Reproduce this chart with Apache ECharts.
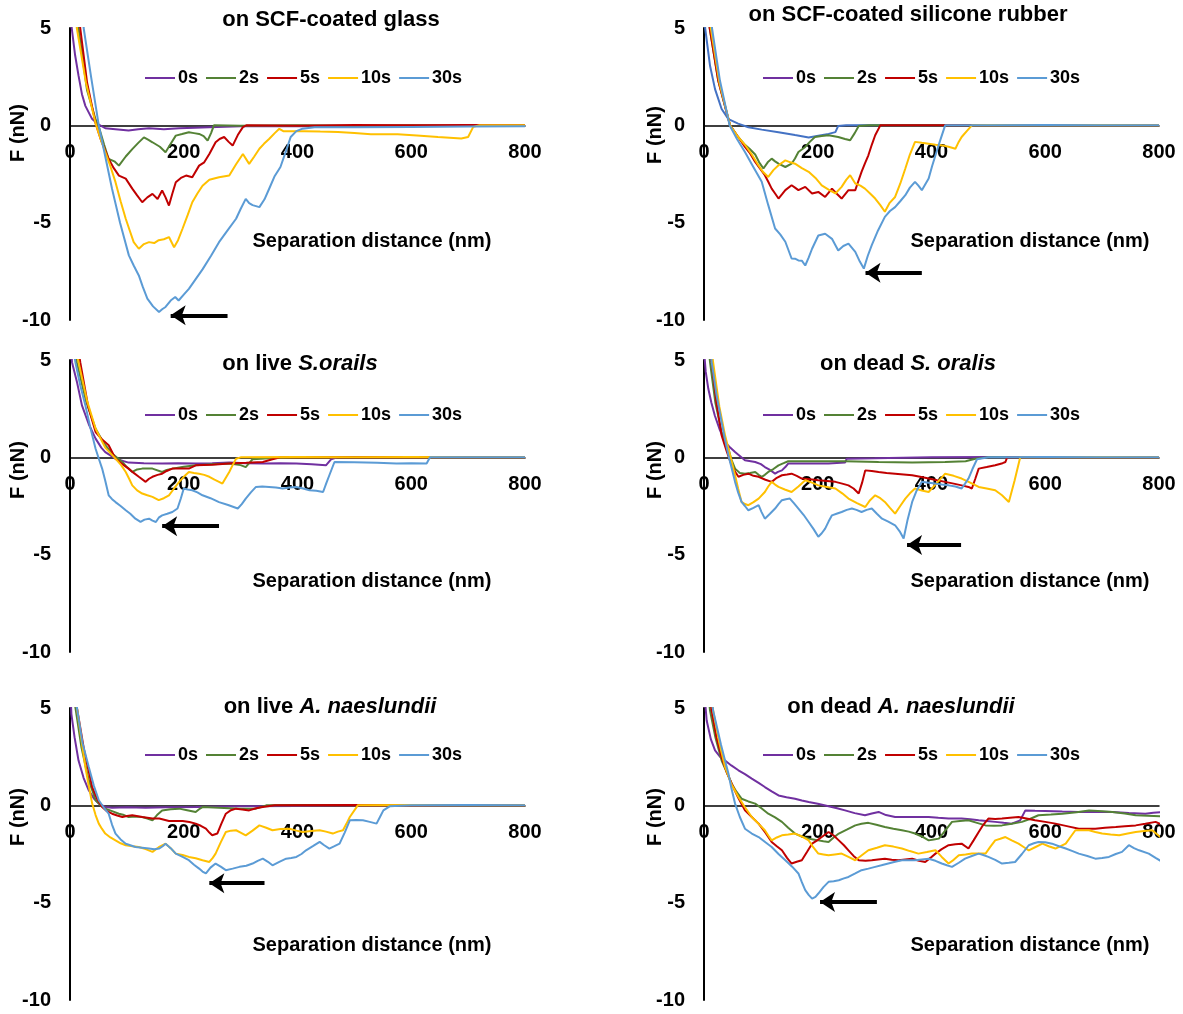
<!DOCTYPE html>
<html><head><meta charset="utf-8">
<script src="https://cdn.jsdelivr.net/npm/echarts@6/dist/echarts.min.js"></script>
<style>html,body{margin:0;padding:0;background:#fff}#c{width:1183px;height:1014px}</style>
</head><body><div id="c"></div>
<script>
const seriesNames = ['0s','2s','5s','10s','30s'];
const baseColors = ['#7030A0','#548235','#C00000','#FFC000','#5B9BD5'];
const panelTitles = ['on SCF-coated glass','on SCF-coated silicone rubber','on live {i|S.orails}','on dead {i|S. oralis}','on live {i|A. naeslundii}','on dead {i|A. naeslundii}'];
const xName = 'Separation distance (nm)';
const yName = 'F (nN)';

// Panel 1: SCF-coated glass
const g0 = [[0,7],[3,5],[9,3.6],[15,2.55],[21,1.6],[27,1.0],[39,0.32],[50,0.05],[62,-0.15],[80,-0.2],[103,-0.27],[120,-0.2],[139,-0.15],[165,-0.2],[192,-0.15],[220,-0.12],[245,-0.1],[300,-0.05],[400,-0.03],[500,-0.05],[600,-0.03],[700,-0.04],[800,-0.03]];
const g2 = [[0,9],[15,5],[30,1.8],[45,0.3],[52,-0.2],[60,-1.0],[68,-1.73],[78,-1.85],[86,-2.07],[98,-1.6],[109.5,-1.22],[120,-0.9],[130,-0.62],[138,-0.75],[145,-0.87],[158,-1.1],[168,-1.38],[176,-1.0],[186,-0.53],[197,-0.45],[209,-0.36],[218,-0.4],[227,-0.44],[235,-0.55],[242,-0.79],[248,-0.4],[253,0],[300,-0.02],[400,0],[500,-0.02],[600,0],[700,-0.02],[800,0]];
const g5 = [[0,9],[18,5],[30,2.2],[45,0.1],[55,-0.8],[62,-1.3],[68,-1.73],[77,-2.2],[86,-2.58],[98,-2.74],[109.5,-3.25],[118,-3.6],[127,-3.95],[136,-3.7],[145,-3.52],[154,-3.78],[162,-3.35],[168,-3.7],[174,-4.12],[180,-3.5],[186,-2.92],[195,-2.7],[204,-2.58],[215,-2.67],[227,-2.07],[236,-1.9],[245,-1.47],[256,-0.87],[263,-0.7],[271,-0.6],[279,-0.85],[286,-1.04],[295,-0.5],[304,-0.09],[310,0],[400,-0.02],[500,0.02],[600,0],[700,0.02],[800,0]];
const g10 = [[0,9],[12,5],[28,2.2],[45,0.1],[55,-0.8],[62,-1.38],[71,-2.1],[80,-2.92],[89,-3.9],[98,-4.8],[105,-5.4],[112,-6.0],[121,-6.34],[130,-6.1],[139,-6.0],[148,-6.05],[156,-5.9],[165,-5.85],[174,-5.74],[183,-6.26],[190,-5.9],[198,-5.3],[207,-4.6],[215,-3.95],[224,-3.5],[233,-3.1],[245,-2.8],[262,-2.67],[280,-2.58],[292,-2.0],[304,-1.47],[315,-1.98],[324,-1.6],[333,-1.2],[341,-0.95],[350,-0.7],[360,-0.4],[368,-0.18],[375,-0.3],[412,-0.3],[440,-0.32],[471,-0.34],[500,-0.4],[529,-0.46],[576,-0.46],[610,-0.52],[647,-0.6],[688,-0.68],[700,-0.6],[709,-0.08],[720,0],[800,0]];
const g30 = [[0,12],[24,5],[37,2.5],[50.6,0],[62,-1.6],[74,-3.27],[88,-5.0],[103.5,-6.68],[112,-7.2],[121,-7.71],[128,-8.3],[136,-8.9],[146,-9.3],[156.5,-9.59],[162,-9.45],[168,-9.33],[177,-9.0],[185,-8.82],[191,-9.0],[200,-8.7],[209,-8.4],[221,-7.9],[233,-7.4],[248,-6.7],[262,-6.0],[277,-5.4],[292,-4.8],[300,-4.3],[309,-3.78],[315,-4.0],[321,-4.1],[333,-4.2],[342,-3.8],[350,-3.27],[360,-2.6],[370,-2.14],[380,-1.3],[388,-0.6],[398,-0.3],[409,-0.17],[430,-0.1],[500,-0.1],[600,-0.08],[700,-0.06],[800,-0.05]];

// Panel 2: SCF-coated silicone rubber
const s0 = [[0,7],[2,5],[10.6,3.06],[19.4,1.86],[31,0.84],[43,0.32],[60,0.09],[78,-0.1],[101.5,-0.22],[131,-0.35],[160,-0.5],[184,-0.62],[201,-0.53],[219,-0.44],[231,-0.35],[236,-0.03],[250,0],[400,0.02],[500,0],[600,0.02],[700,0],[800,0]];
const s2 = [[0,9],[10,5],[25,2.3],[45.8,0],[60,-0.6],[72,-1.0],[80,-1.2],[90,-1.5],[97,-1.9],[104.5,-2.22],[112,-1.9],[119,-1.71],[125,-1.85],[131,-1.97],[143,-2.14],[154,-1.97],[160,-1.7],[166,-1.37],[178,-1.11],[186,-0.85],[195,-0.6],[207,-0.55],[219,-0.51],[236,-0.6],[248,-0.7],[257,-0.77],[265,-0.4],[272,-0.03],[290,0],[400,0],[500,0.02],[600,0],[700,0.02],[800,0]];
const s5 = [[0,9],[10,5],[25,2.3],[45.8,0],[60,-0.6],[72,-1.11],[80,-1.4],[90,-1.88],[98,-2.2],[107,-2.56],[113,-2.9],[119,-3.25],[125,-3.5],[131,-3.76],[137,-3.55],[143,-3.33],[154,-3.08],[160,-3.2],[166,-3.33],[178,-3.16],[190,-3.5],[201,-3.42],[213,-3.68],[225,-3.25],[233,-3.5],[242,-3.76],[254,-3.33],[266,-3.33],[271,-2.9],[277,-2.39],[283,-1.95],[289,-1.54],[295,-1.0],[301,-0.51],[310,0],[400,0],[500,0],[600,0.02],[700,0],[800,0]];
const s10 = [[0,9],[12,5],[27,2.2],[45.8,0],[60,-0.6],[72,-1.0],[84,-1.5],[95.6,-2.05],[104,-2.4],[113,-2.65],[122,-2.3],[131,-2.05],[143,-1.8],[152,-1.9],[160,-1.97],[172,-2.2],[184,-2.39],[196,-2.7],[207,-3.08],[219,-3.3],[231,-3.5],[242,-3.16],[250,-2.8],[257,-2.56],[266,-2.99],[275,-3.1],[283,-3.25],[292,-3.5],[301,-3.76],[310,-4.1],[318,-4.44],[326,-4.0],[336,-3.68],[345,-3.0],[354,-2.22],[362,-1.5],[371,-0.85],[383,-0.9],[395,-0.94],[407,-1.0],[419,-1.03],[430,-1.1],[442,-1.2],[447,-0.9],[453,-0.6],[462,-0.3],[471,0],[500,0.02],[600,0],[700,0.02],[800,0]];
const s30 = [[0,10],[14,5],[28,2.3],[45,0],[58,-0.7],[72,-1.37],[86,-2.1],[101.5,-2.9],[113,-4.1],[125,-5.3],[134,-5.6],[143,-5.98],[154,-6.84],[160,-6.85],[166,-6.94],[172,-6.95],[178,-7.2],[184,-6.8],[190,-6.34],[201,-5.66],[213,-5.57],[225,-5.83],[236,-6.43],[245,-6.2],[254,-6.08],[266,-6.5],[274,-7.0],[281,-7.36],[288,-6.7],[295,-6.15],[306,-5.4],[318,-4.7],[327,-4.4],[336,-4.2],[345,-3.9],[354,-3.59],[362,-3.2],[371,-2.9],[377,-3.1],[383,-3.33],[395,-2.73],[401,-2.1],[407,-1.54],[415,-0.8],[424,0],[500,0],[600,0.02],[700,0],[800,0]];

// Panel 3: live S. oralis
const o0 = [[0,6.5],[3.5,4.89],[12,3.9],[21,2.67],[33,1.7],[45,0.96],[55,0.5],[62,0.27],[80,-0.07],[103,-0.27],[130,-0.3],[162,-0.32],[190,-0.3],[221,-0.32],[250,-0.3],[280,-0.27],[310,-0.3],[339,-0.32],[370,-0.3],[398,-0.32],[425,-0.35],[450,-0.41],[459,-0.1],[470,0],[600,0.02],[700,0],[800,0]];
const o2 = [[0,8],[12,4.89],[28,2.9],[45,1.47],[60,0.7],[74,0.19],[92,-0.24],[100,-0.5],[109.5,-0.75],[118,-0.62],[127,-0.58],[145,-0.58],[162,-0.75],[170,-0.65],[180,-0.58],[200,-0.48],[221,-0.41],[250,-0.36],[280,-0.32],[300,-0.4],[309,-0.5],[315,-0.3],[321,-0.1],[350,-0.05],[400,0],[500,0.02],[600,0],[700,0.02],[800,0]];
const o5 = [[0,8.5],[18,4.89],[32,2.6],[45,1.3],[57,0.9],[68,0.62],[80,-0.07],[92,-0.35],[103,-0.58],[112,-0.8],[121,-1.0],[133,-1.26],[139,-1.1],[145,-1.0],[154,-0.9],[162,-0.84],[170,-0.7],[180,-0.58],[209,-0.58],[221,-0.41],[250,-0.38],[280,-0.32],[310,-0.28],[339,-0.24],[356,-0.1],[370,0],[500,0],[600,0.02],[700,0],[800,0]];
const o10 = [[0,8],[15,4.89],[30,2.9],[45,1.47],[62,0.5],[80,-0.07],[90,-0.4],[98,-0.75],[104,-1.1],[109.5,-1.44],[118,-1.7],[127,-1.86],[136,-1.95],[145,-2.03],[156,-2.2],[165,-2.1],[174,-1.95],[183,-1.6],[192,-1.26],[200,-1.0],[209,-0.75],[218,-0.8],[227,-0.84],[236,-0.9],[245,-1.0],[254,-1.15],[262,-1.26],[268,-1.35],[274,-1.05],[280,-0.75],[286,-0.4],[292,-0.07],[300,0],[400,0.02],[500,0],[600,0.02],[700,0],[800,0]];
const o30 = [[0,7],[9.4,4.89],[18,3.7],[27,2.67],[36,1.5],[45,0.44],[51,-0.1],[56.5,-0.58],[62,-1.2],[68,-1.95],[74,-2.15],[80,-2.3],[89,-2.5],[98,-2.72],[106,-2.9],[115,-3.15],[124,-3.32],[131,-3.2],[139,-3.15],[145,-3.25],[151,-3.32],[156,-3.1],[162,-2.98],[171,-2.9],[180,-2.81],[189,-2.63],[195,-2.1],[200,-1.6],[207,-1.65],[215,-1.69],[224,-1.8],[233,-1.95],[247,-2.1],[262,-2.3],[278,-2.45],[295,-2.63],[302,-2.4],[309,-2.12],[318,-1.8],[327,-1.52],[338,-1.5],[350,-1.52],[362,-1.55],[374,-1.6],[386,-1.55],[398,-1.52],[410,-1.6],[421,-1.69],[433,-1.72],[445,-1.78],[451,-1.3],[456,-0.92],[465,-0.24],[500,-0.25],[540,-0.28],[574,-0.32],[600,-0.3],[627,-0.32],[633,0],[700,0],[800,0]];

// Panel 4: dead S. oralis
const d0 = [[0,5.5],[3,4.4],[7.6,3.52],[13,2.8],[19,2.15],[28,1.4],[37,0.79],[46,0.5],[54.6,0.27],[72,-0.15],[90,-0.24],[100,-0.35],[107,-0.5],[116,-0.65],[125,-0.84],[130,-0.75],[137,-0.67],[143,-0.5],[148,-0.32],[178,-0.32],[219,-0.32],[248,-0.27],[251,-0.07],[300,-0.05],[400,0],[500,0.02],[600,0],[700,0.02],[800,0]];
const d2 = [[0,8],[10.6,4.89],[20,2.8],[31,1.3],[37,0.8],[43,0.44],[48,-0.1],[54.6,-0.58],[63,-0.8],[72,-0.84],[81,-0.8],[90,-0.75],[96,-0.9],[101.5,-1.0],[107,-0.9],[113,-0.75],[122,-0.6],[131,-0.41],[140,-0.3],[148,-0.2],[190,-0.2],[248,-0.2],[307,-0.24],[366,-0.27],[424,-0.24],[460,-0.2],[477,-0.07],[500,0],[600,0.02],[700,0],[800,0]];
const d5 = [[0,8],[13.5,4.89],[22,2.8],[31,1.13],[40,0.3],[48.7,-0.41],[55,-0.75],[60.6,-1.0],[69,-0.9],[78,-0.84],[87,-0.95],[96,-1.0],[108,-1.15],[119,-1.26],[128,-1.05],[137,-0.92],[146,-0.88],[154,-0.84],[163,-0.95],[172,-1.09],[186,-1.12],[201,-1.18],[216,-1.22],[231,-1.26],[243,-1.35],[254,-1.44],[263,-1.6],[272,-1.86],[278,-1.3],[283.5,-0.67],[295,-0.7],[307,-0.75],[321,-0.8],[336,-0.84],[351,-0.88],[366,-0.92],[380,-1.0],[395,-1.09],[410,-1.18],[424,-1.26],[439,-1.35],[453,-1.44],[465,-1.52],[471,-1.6],[477,-1.1],[483,-0.58],[497,-0.5],[512,-0.41],[525,-0.3],[530,-0.24],[533,0],[600,0],[700,0.02],[800,0]];
const d10 = [[0,9],[16,4.89],[27,2.6],[37,1.13],[46,0.1],[54.6,-0.92],[60,-1.6],[66,-2.29],[72,-2.4],[78,-2.46],[87,-2.3],[96,-2.12],[107,-1.78],[113,-1.5],[119,-1.26],[125,-1.4],[131,-1.52],[142,-1.65],[154,-1.78],[166,-1.5],[178,-1.18],[190,-1.3],[201,-1.44],[216,-1.52],[231,-1.6],[243,-1.85],[254,-2.12],[269,-2.35],[283.5,-2.55],[292,-2.2],[301,-1.95],[310,-2.1],[318,-2.29],[327,-2.6],[336,-2.89],[345,-2.5],[354,-2.12],[362,-1.85],[371,-1.6],[383,-1.7],[395,-1.78],[410,-1.3],[424,-0.84],[439,-0.95],[453,-1.09],[468,-1.3],[483,-1.52],[497,-1.6],[512,-1.69],[524,-1.95],[536,-2.29],[546,-1.2],[556,0],[600,0],[700,0.02],[800,0]];
const d30 = [[0,9],[13.5,4.89],[22,3.2],[31,1.81],[37,0.9],[43,0.1],[49,-0.6],[54.6,-1.26],[60,-1.8],[66,-2.29],[72,-2.5],[78,-2.72],[87,-2.6],[96,-2.46],[101,-2.8],[107,-3.15],[116,-2.9],[125,-2.63],[131,-2.4],[137,-2.2],[144,-2.15],[151,-2.12],[158,-2.35],[166,-2.63],[175,-2.95],[184,-3.32],[193,-3.7],[201,-4.08],[207,-3.9],[213,-3.66],[219,-3.3],[225,-2.98],[233,-2.9],[242,-2.81],[251,-2.7],[260,-2.63],[268,-2.7],[277,-2.81],[286,-2.7],[295,-2.63],[304,-2.9],[313,-3.15],[324,-3.3],[336,-3.49],[344,-3.8],[351,-4.17],[358,-3.2],[366,-2.29],[374,-1.7],[383,-1.26],[395,-1.3],[407,-1.35],[418,-1.4],[430,-1.44],[442,-1.5],[453,-1.6],[459,-1.35],[465,-1.09],[472,-0.6],[480,-0.1],[500,0],[600,0.02],[700,0],[800,0]];

// Panel 5: live A. naeslundii
const a0 = [[0,6.5],[2.4,4.7],[8,3.5],[15,2.3],[24,1.4],[33,0.77],[42,0.35],[50.6,0.09],[62,-0.08],[74,-0.12],[100,-0.1],[133,-0.12],[170,-0.1],[221,-0.09],[300,-0.05],[400,-0.03],[500,0],[600,-0.02],[700,0],[800,0]];
const a2 = [[0,7.5],[9.4,5.04],[20,3.0],[33,1.28],[40,0.7],[45,0.26],[54,0.0],[62,-0.17],[74,-0.3],[86,-0.43],[95,-0.5],[103,-0.6],[115,-0.58],[127,-0.6],[136,-0.68],[145,-0.77],[153,-0.5],[162,-0.26],[177,-0.2],[192,-0.17],[206,-0.25],[221,-0.34],[227,-0.2],[233,-0.09],[262,-0.12],[298,-0.17],[327,-0.17],[345,0],[400,0.02],[500,0],[600,0.02],[700,0],[800,0]];
const a5 = [[0,8],[12,5.04],[25,2.8],[39,0.94],[48,0.3],[56.5,-0.09],[65,-0.3],[74,-0.43],[83,-0.52],[92,-0.6],[100,-0.55],[109.5,-0.51],[127,-0.6],[145,-0.68],[157,-0.68],[174,-0.8],[198,-0.8],[210,-0.86],[221,-0.94],[230,-1.05],[239,-1.2],[245,-1.4],[250,-1.54],[259,-1.45],[266,-0.95],[274,-0.43],[283,-0.25],[292,-0.17],[303,-0.22],[315,-0.26],[327,-0.15],[339,-0.09],[360,0],[500,0.02],[600,0],[700,0.02],[800,0]];
const a10 = [[0,9],[12,5.04],[20,3.4],[27,1.97],[33,1.0],[39,0.09],[45,-0.5],[50.6,-0.94],[56,-1.2],[62,-1.45],[71,-1.65],[80,-1.8],[89,-1.95],[98,-2.05],[110,-2.1],[121,-2.14],[133,-2.25],[145,-2.39],[156,-2.15],[168,-1.97],[177,-2.2],[186,-2.48],[198,-2.55],[209,-2.65],[221,-2.72],[233,-2.82],[245,-2.91],[251,-2.7],[256,-2.48],[265,-1.9],[274,-1.37],[283,-1.3],[292,-1.28],[300,-1.4],[309,-1.54],[321,-1.3],[333,-1.03],[345,-1.15],[356,-1.28],[370,-1.22],[386,-1.2],[398,-1.3],[409,-1.37],[424,-1.32],[439,-1.28],[450,-1.35],[462,-1.45],[471,-1.35],[480,-1.28],[486,-0.95],[492,-0.6],[506,0],[600,0.02],[700,0],[800,0]];
const a30 = [[0,9],[12,5.04],[22,3.2],[33,1.97],[42,1.0],[50.6,0.26],[59,-0.1],[68,-0.43],[74,-1.0],[80,-1.45],[89,-1.75],[98,-1.97],[106,-2.05],[115,-2.14],[127,-2.18],[139,-2.22],[148,-2.25],[157,-2.22],[163,-2.1],[168,-1.97],[177,-2.2],[186,-2.48],[198,-2.65],[209,-2.82],[218,-3.05],[227,-3.25],[233,-3.4],[239,-3.5],[247,-3.2],[256,-2.99],[265,-3.15],[274,-3.33],[286,-3.25],[298,-3.16],[310,-3.1],[321,-2.99],[330,-2.85],[339,-2.74],[348,-2.9],[356,-3.08],[368,-2.9],[380,-2.74],[389,-2.7],[398,-2.65],[407,-2.5],[415,-2.31],[427,-2.1],[439,-1.88],[447,-2.05],[456,-2.22],[465,-2.1],[474,-1.97],[483,-1.4],[492,-0.77],[503,-0.75],[515,-0.77],[527,-0.85],[539,-0.94],[545,-0.6],[551,-0.26],[562,-0.05],[600,0],[700,0.02],[800,0]];

// Panel 6: dead A. naeslundii
const n0 = [[0,6],[4.7,4.36],[12,3.4],[19.4,2.82],[28,2.5],[37,2.3],[48,2.05],[60.5,1.8],[72,1.6],[84,1.37],[96,1.15],[107,0.94],[119,0.72],[131,0.51],[145,0.42],[160,0.34],[172,0.25],[184,0.17],[200,0.08],[219,-0.05],[234,-0.15],[248,-0.26],[265,-0.4],[283,-0.51],[295,-0.42],[307,-0.34],[320,-0.5],[336,-0.6],[365,-0.6],[395,-0.6],[412,-0.64],[430,-0.68],[453,-0.68],[468,-0.72],[483,-0.77],[497,-0.8],[512,-0.85],[527,-0.9],[541,-0.94],[556,-0.77],[565,-0.26],[582,-0.28],[600,-0.29],[630,-0.32],[659,-0.34],[690,-0.33],[718,-0.34],[747,-0.39],[776,-0.43],[790,-0.38],[806,-0.34]];
const n2 = [[0,8],[10.6,4.87],[20,3.5],[31,2.3],[40,1.7],[48.7,1.11],[57,0.7],[66,0.34],[78,0.2],[90,0.09],[101,-0.15],[113,-0.43],[125,-0.62],[137,-0.85],[148,-1.15],[160,-1.45],[172,-1.6],[184,-1.71],[192,-1.75],[201,-1.8],[210,-1.85],[219,-1.88],[228,-1.65],[237,-1.45],[251,-1.25],[266,-1.03],[277,-0.95],[289,-0.9],[303,-1.0],[318,-1.11],[333,-1.2],[348,-1.28],[360,-1.35],[371,-1.45],[383,-1.6],[395,-1.8],[404,-1.75],[413,-1.71],[424,-1.3],[436,-0.85],[450,-0.8],[465,-0.77],[480,-0.9],[495,-1.03],[510,-1.05],[524,-1.03],[541,-0.95],[559,-0.85],[573,-0.7],[588,-0.51],[610,-0.47],[630,-0.43],[655,-0.35],[677,-0.26],[700,-0.3],[718,-0.34],[740,-0.42],[759,-0.51],[780,-0.53],[806,-0.56]];
const n5 = [[0,8],[13.5,4.87],[22,3.5],[31,2.48],[40,1.7],[48.7,1.11],[60,0.4],[72,-0.26],[84,-0.6],[96,-0.94],[108,-1.4],[119,-1.88],[128,-2.1],[137,-2.31],[146,-2.7],[154,-2.99],[163,-2.9],[172,-2.82],[181,-2.4],[190,-1.97],[199,-1.8],[207,-1.63],[219,-1.37],[228,-1.55],[237,-1.8],[246,-2.05],[254,-2.31],[263,-2.6],[272,-2.82],[284,-2.85],[295,-2.82],[306,-2.78],[318,-2.74],[330,-2.8],[342,-2.82],[354,-2.78],[366,-2.74],[378,-2.85],[389,-2.91],[398,-2.7],[407,-2.48],[418,-2.25],[430,-2.05],[442,-2.0],[453,-1.97],[465,-2.22],[474,-1.8],[483,-1.37],[491,-1.0],[500,-0.68],[512,-0.7],[524,-0.68],[538,-0.64],[553,-0.6],[567,-0.68],[582,-0.77],[600,-0.85],[618,-0.94],[640,-1.08],[659,-1.2],[688,-1.2],[705,-1.15],[724,-1.11],[740,-1.07],[759,-1.03],[776,-0.95],[794,-0.85],[808,-1.03]];
const n10 = [[0,9],[16,4.87],[27,3.2],[37,1.97],[48,1.1],[60.5,0.43],[72,-0.1],[84,-0.6],[96,-0.95],[107,-1.28],[113,-1.55],[119,-1.8],[128,-1.65],[137,-1.54],[148,-1.5],[160,-1.45],[172,-1.6],[184,-1.8],[192,-2.15],[201,-2.48],[210,-2.52],[219,-2.56],[230,-2.52],[242,-2.48],[254,-2.65],[266,-2.82],[278,-2.55],[289,-2.31],[304,-2.18],[318,-2.05],[333,-2.12],[348,-2.22],[362,-2.35],[377,-2.48],[392,-2.4],[407,-2.31],[418,-2.65],[430,-2.99],[439,-2.8],[448,-2.56],[460,-2.52],[471,-2.48],[483,-2.48],[495,-2.48],[503,-2.15],[512,-1.8],[521,-1.72],[530,-1.63],[541,-1.8],[553,-1.97],[562,-2.14],[571,-2.31],[583,-2.14],[595,-1.97],[606,-2.1],[618,-2.22],[627,-2.1],[636,-1.97],[645,-1.6],[653,-1.28],[665,-1.28],[677,-1.28],[688,-1.37],[700,-1.45],[715,-1.5],[730,-1.54],[745,-1.45],[759,-1.37],[774,-1.32],[788,-1.28],[797,-1.5],[806,-1.71]];
const n30 = [[0,9],[16,4.87],[30,3.1],[43,1.62],[48,0.9],[54.6,0.09],[63,-0.6],[72,-1.2],[84,-1.45],[96,-1.63],[108,-1.9],[119,-2.14],[131,-2.5],[143,-2.82],[155,-3.15],[166,-3.5],[172,-3.95],[178,-4.36],[184,-4.6],[190,-4.79],[196,-4.7],[201,-4.53],[210,-4.2],[219,-3.93],[228,-3.9],[237,-3.85],[246,-3.75],[254,-3.68],[266,-3.5],[277,-3.33],[289,-3.25],[301,-3.16],[312,-3.08],[324,-2.99],[336,-2.9],[348,-2.82],[360,-2.82],[371,-2.82],[383,-2.78],[395,-2.74],[407,-2.85],[418,-2.99],[427,-3.08],[436,-3.16],[448,-2.95],[459,-2.74],[471,-2.6],[483,-2.48],[491,-2.55],[500,-2.65],[512,-2.8],[524,-2.99],[536,-2.95],[547,-2.91],[559,-2.5],[571,-2.05],[580,-1.95],[588,-1.88],[600,-1.9],[612,-1.97],[624,-2.1],[636,-2.22],[648,-2.35],[659,-2.48],[674,-2.6],[688,-2.74],[700,-2.7],[712,-2.65],[724,-2.5],[735,-2.39],[747,-2.05],[756,-2.2],[765,-2.31],[782,-2.48],[794,-2.7],[806,-2.91]];

// Arrows (tail -> head) in data coordinates
const arrows = [
  [[277,-9.76],[177,-9.76]],
  [[383,-7.57],[284,-7.57]],
  [[262,-3.54],[162,-3.54]],
  [[452,-4.5],[357,-4.5]],
  [[342,-4.0],[245,-4.0]],
  [[304,-4.96],[204,-4.96]]
];

const panelData = [[g0,g2,g5,g10,g30],[s0,s2,s5,s10,s30],[o0,o2,o5,o10,o30],[d0,d2,d5,d10,d30],[a0,a2,a5,a10,a30],[n0,n2,n5,n10,n30]];

// layout
const FF = '"Liberation Sans", Arial, Helvetica, sans-serif';
const gridPos = [[70,28],[704,28],[70,360],[704,360],[70,708],[704,708]];
const GW = 455, GH = 292;
const Y_MIN = -10, Y_MAX = 5;
const zeroOffset = -GH * (0 - Y_MIN) / (Y_MAX - Y_MIN);
const titlePos = [[331,20],[908,15],[300,364],[908,364],[330,707],[901,707]];
const xNamePos = [[372,241],[1030,241],[372,581],[1030,581],[372,945],[1030,945]];
const yNamePos = [[18,133],[655,135],[18,470],[655,470],[18,817],[655,817]];
const legendPos = [[145,69],[763,69],[145,406],[763,406],[145,746],[763,746]];

const chart = echarts.init(document.getElementById('c'), null, {renderer:'canvas'});
const series = [];
panelData.forEach((p,i)=>{
  p.forEach((arr,j)=>{
    let color = baseColors[j];
    if (i===1 && j===0) color = '#4472C4';
    const s = {type:'line', name:seriesNames[j], xAxisIndex:i, yAxisIndex:i, data:arr,
      symbol:'none', showSymbol:false, clip:true, z:2+j, animation:false,
      lineStyle:{width:2, color:color}, itemStyle:{color:color}};
    if (j===4) {
      s.markLine = {silent:true, symbol:['none','arrow'], symbolSize:15, animation:false,
        label:{show:false}, emphasis:{disabled:true},
        lineStyle:{color:'#000', width:4, type:'solid'},
        data:[[{coord:arrows[i][0]},{coord:arrows[i][1]}]]};
    }
    series.push(s);
  });
});

const txt = (x,y,text,size,extra) => Object.assign({type:'text', x:x, y:y, silent:true,
  style:{text:text, fill:'#000', fontFamily:FF, fontWeight:'bold', fontSize:size,
    textAlign:'center', textVerticalAlign:'middle',
    rich:{i:{fontFamily:FF, fontWeight:'bold', fontStyle:'italic', fontSize:size, fill:'#000'}}}}, extra||{});

const graphic = [];
panelTitles.forEach((t,i)=>graphic.push(txt(titlePos[i][0],titlePos[i][1],t,22)));
xNamePos.forEach(p=>graphic.push(txt(p[0],p[1],xName,20)));
yNamePos.forEach(p=>graphic.push(txt(p[0],p[1],yName,20,{rotation:Math.PI/2})));

chart.setOption({
  animation:false,
  backgroundColor:'#fff',
  grid: gridPos.map(g=>({left:g[0], top:g[1], width:GW, height:GH, containLabel:false})),
  xAxis: gridPos.map((g,i)=>({gridIndex:i, type:'value', min:0, max:800, interval:200,
    position:'bottom', offset:zeroOffset,
    axisLine:{show:true, onZero:false, lineStyle:{color:'#000', width:1.5}},
    axisTick:{show:false}, splitLine:{show:false},
    axisLabel:{margin:17, fontSize:20, fontWeight:'bold', color:'#000', fontFamily:FF}})),
  yAxis: gridPos.map((g,i)=>({gridIndex:i, type:'value', min:Y_MIN, max:Y_MAX, interval:5,
    axisLine:{show:true, onZero:false, lineStyle:{color:'#000', width:2}},
    axisTick:{show:false}, splitLine:{show:false},
    axisLabel:{margin:19, fontSize:20, fontWeight:'bold', color:'#000', fontFamily:FF}})),
  legend: legendPos.map(p=>({left:p[0], top:p[1], orient:'horizontal', icon:'rect', padding:0,
    itemWidth:30, itemHeight:2, itemGap:8, selectedMode:false,
    data: seriesNames.map((n,j)=>({name:n, itemStyle:{color:baseColors[j]}})),
    textStyle:{fontFamily:FF, fontWeight:'bold', fontSize:18, color:'#000', padding:[0,0,0,-2]}})),
  graphic: graphic,
  series: series
});
</script>
</body></html>
